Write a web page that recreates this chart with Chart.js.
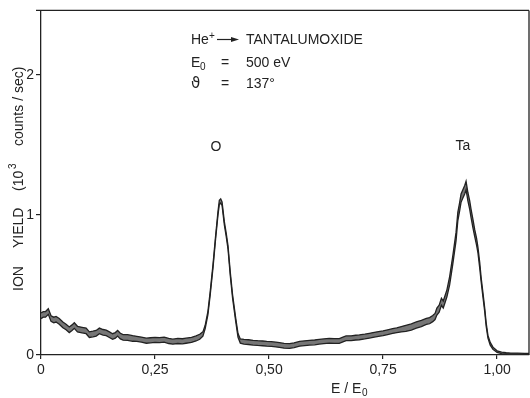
<!DOCTYPE html>
<html>
<head>
<meta charset="utf-8">
<script src="https://cdn.jsdelivr.net/npm/chart.js@4.4.1/dist/chart.umd.min.js"></script>
<style>
  html, body { margin: 0; padding: 0; background: #fff; }
  #wrap { width: 530px; height: 398px; position: relative; }
</style>
</head>
<body>
<div id="wrap"><canvas id="spectrum"></canvas></div>
<script>
// energy ratio E/E0
const energyRatio = [
  0.000, 0.005, 0.010, 0.016, 0.022, 0.028, 0.033, 0.040, 0.048, 0.055,
  0.062, 0.068, 0.073, 0.080, 0.090, 0.099, 0.106, 0.114, 0.121, 0.128,
  0.136, 0.143, 0.150, 0.157, 0.163, 0.168, 0.174, 0.180, 0.190, 0.201,
  0.210, 0.220, 0.231, 0.240, 0.250, 0.260, 0.270, 0.280, 0.289, 0.300,
  0.310, 0.318, 0.330, 0.340, 0.348, 0.355, 0.360, 0.366, 0.371, 0.377,
  0.383, 0.388, 0.391, 0.394, 0.397, 0.402, 0.406, 0.410, 0.415, 0.420,
  0.427, 0.432, 0.437, 0.445, 0.455, 0.465, 0.475, 0.486, 0.495, 0.505,
  0.515, 0.523, 0.533, 0.545, 0.555, 0.567, 0.578, 0.589, 0.600, 0.610,
  0.620, 0.632, 0.643, 0.654, 0.662, 0.669, 0.680, 0.690, 0.698, 0.710,
  0.720, 0.728, 0.740, 0.750, 0.760, 0.771, 0.780, 0.790, 0.800, 0.812,
  0.823, 0.834, 0.845, 0.852, 0.859, 0.864, 0.868, 0.873, 0.878, 0.882,
  0.886, 0.890, 0.896, 0.903, 0.910, 0.914, 0.918, 0.921, 0.925, 0.929,
  0.932, 0.936, 0.940, 0.943, 0.947, 0.951, 0.955, 0.958, 0.962, 0.965,
  0.969, 0.973, 0.976, 0.980, 0.985, 0.991, 1.000, 1.010, 1.020, 1.030,
  1.045, 1.060, 1.070
];

// ion yield, lower edge of the recorded trace (10^3 counts/sec)
const yieldLower = [
  0.260, 0.270, 0.270, 0.290, 0.240, 0.230, 0.235, 0.220, 0.195, 0.180,
  0.160, 0.175, 0.190, 0.165, 0.158, 0.152, 0.125, 0.130, 0.135, 0.152,
  0.142, 0.138, 0.125, 0.112, 0.120, 0.135, 0.115, 0.106, 0.105, 0.098,
  0.097, 0.092, 0.084, 0.087, 0.090, 0.088, 0.092, 0.082, 0.077, 0.082,
  0.080, 0.084, 0.090, 0.100, 0.112, 0.135, 0.188, 0.288, 0.428, 0.618,
  0.833, 0.998, 1.075, 1.085, 1.068, 0.928, 0.848, 0.758, 0.568, 0.408,
  0.238, 0.127, 0.085, 0.078, 0.075, 0.071, 0.068, 0.066, 0.063, 0.061,
  0.058, 0.054, 0.049, 0.047, 0.053, 0.063, 0.067, 0.071, 0.073, 0.078,
  0.081, 0.085, 0.083, 0.083, 0.093, 0.102, 0.103, 0.107, 0.109, 0.115,
  0.121, 0.126, 0.133, 0.138, 0.146, 0.154, 0.159, 0.165, 0.168, 0.178,
  0.192, 0.203, 0.218, 0.223, 0.238, 0.253, 0.285, 0.305, 0.355, 0.335,
  0.375, 0.415, 0.500, 0.650, 0.815, 0.960, 1.030, 1.090, 1.120, 1.150,
  1.180, 1.100, 1.040, 0.980, 0.910, 0.845, 0.785, 0.730, 0.620, 0.525,
  0.415, 0.308, 0.208, 0.120, 0.070, 0.040, 0.018, 0.010, 0.008, 0.006,
  0.006, 0.005, 0.005
];

// ion yield, upper edge of the recorded trace (10^3 counts/sec)
const yieldUpper = [
  0.300, 0.310, 0.310, 0.330, 0.280, 0.270, 0.275, 0.260, 0.235, 0.220,
  0.200, 0.215, 0.230, 0.205, 0.198, 0.192, 0.165, 0.170, 0.175, 0.192,
  0.182, 0.178, 0.165, 0.152, 0.160, 0.175, 0.155, 0.146, 0.145, 0.138,
  0.133, 0.128, 0.120, 0.123, 0.126, 0.124, 0.128, 0.118, 0.113, 0.118,
  0.116, 0.120, 0.126, 0.136, 0.148, 0.165, 0.212, 0.312, 0.452, 0.642,
  0.857, 1.022, 1.105, 1.115, 1.092, 0.952, 0.872, 0.782, 0.592, 0.432,
  0.262, 0.153, 0.115, 0.112, 0.109, 0.105, 0.102, 0.100, 0.097, 0.095,
  0.092, 0.088, 0.083, 0.081, 0.087, 0.097, 0.101, 0.105, 0.107, 0.112,
  0.115, 0.119, 0.117, 0.117, 0.127, 0.136, 0.137, 0.141, 0.143, 0.149,
  0.155, 0.160, 0.167, 0.172, 0.180, 0.188, 0.193, 0.203, 0.212, 0.222,
  0.236, 0.247, 0.262, 0.267, 0.282, 0.297, 0.335, 0.355, 0.405, 0.385,
  0.425, 0.465, 0.560, 0.710, 0.875, 1.020, 1.090, 1.150, 1.180, 1.210,
  1.240, 1.160, 1.100, 1.040, 0.970, 0.895, 0.835, 0.770, 0.660, 0.555,
  0.445, 0.332, 0.232, 0.140, 0.090, 0.056, 0.030, 0.020, 0.016, 0.014,
  0.014, 0.011, 0.011
];

const xTickValues = [0, 0.25, 0.5, 0.75, 1.0];
const xTickLabels = ["0", "0,25", "0,50", "0,75", "1,00"];
const yTickValues = [0, 1, 2];
const yTickLabels = ["0", "1", "2"];

const ink = "#222";
const font = "Liberation Sans, Arial, sans-serif";

const toPoints = (ys) => energyRatio.map((x, i) => ({ x: x, y: ys[i] }));

// frame, peak labels and the measurement notes
const annotations = {
  id: "annotations",
  afterDraw(chart) {
    const { ctx, chartArea: a } = chart;
    ctx.save();
    ctx.strokeStyle = ink;
    ctx.lineWidth = 1.3;
    ctx.beginPath();
    ctx.moveTo(36, a.top);
    ctx.lineTo(a.right, a.top);
    ctx.moveTo(a.right, a.top);
    ctx.lineTo(a.right, a.bottom);
    ctx.stroke();

    ctx.fillStyle = ink;
    ctx.textBaseline = "alphabetic";

    // peak labels
    ctx.font = "14px " + font;
    ctx.textAlign = "center";
    ctx.fillText("O", 216, 151);
    ctx.fillText("Ta", 463, 150);

    // reaction line
    ctx.textAlign = "left";
    ctx.font = "14px " + font;
    ctx.fillText("He", 191, 44);
    ctx.font = "10px " + font;
    ctx.fillText("+", 209, 39);
    ctx.beginPath();
    ctx.lineWidth = 1.2;
    ctx.moveTo(217, 39.5);
    ctx.lineTo(233, 39.5);
    ctx.stroke();
    ctx.beginPath();
    ctx.moveTo(231, 37);
    ctx.lineTo(239, 39.5);
    ctx.lineTo(231, 42);
    ctx.closePath();
    ctx.fill();
    ctx.font = "14px " + font;
    ctx.fillText("TANTALUMOXIDE", 246, 44);

    // primary energy
    ctx.fillText("E", 191, 67);
    ctx.font = "10px " + font;
    ctx.fillText("0", 200, 70);
    ctx.font = "14px " + font;
    ctx.textAlign = "center";
    ctx.fillText("=", 225, 67);
    ctx.textAlign = "left";
    ctx.fillText("500 eV", 246, 67);

    // scattering angle
    ctx.font = "15px DejaVu Sans, " + font;
    ctx.fillText("\u03D1", 191, 88);
    ctx.font = "14px " + font;
    ctx.textAlign = "center";
    ctx.fillText("=", 225, 88);
    ctx.textAlign = "left";
    ctx.fillText("137\u00B0", 246, 88);

    // x axis title
    ctx.font = "14px " + font;
    ctx.fillText("E / E", 331, 393);
    ctx.font = "10px " + font;
    ctx.fillText("0", 362, 396);

    // y axis title, rotated
    ctx.translate(23, 0);
    ctx.rotate(-Math.PI / 2);
    ctx.font = "14px " + font;
    ctx.fillText("ION", -291, 0);
    ctx.fillText("YIELD", -248, 0);
    ctx.fillText("(10", -191, 0);
    ctx.font = "10px " + font;
    ctx.fillText("3", -169, -7);
    ctx.font = "14px " + font;
    ctx.fillText("counts / sec)", -146, 0);
    ctx.restore();
  }
};

new Chart(document.getElementById("spectrum"), {
  type: "line",
  data: {
    datasets: [
      {
        label: "lower",
        data: toPoints(yieldLower),
        borderColor: ink,
        borderWidth: 1.3,
        pointRadius: 0,
        fill: false,
        tension: 0,
      },
      {
        label: "upper",
        data: toPoints(yieldUpper),
        borderColor: ink,
        borderWidth: 1.3,
        pointRadius: 0,
        fill: "-1",
        backgroundColor: "#767676",
        tension: 0,
      },
    ],
  },
  options: {
    responsive: true,
    maintainAspectRatio: false,
    animation: false,
    events: [],
    layout: { padding: { top: 10, right: 1, left: 0, bottom: 0 } },
    plugins: {
      legend: { display: false },
      tooltip: { enabled: false },
    },
    scales: {
      x: {
        type: "linear",
        min: 0,
        max: 1.07,
        afterFit: (s) => { s.height = 43; },
        afterBuildTicks: (s) => { s.ticks = xTickValues.map((v) => ({ value: v })); },
        border: { display: true, color: ink, width: 1.3 },
        grid: { drawOnChartArea: false, drawTicks: true, tickLength: 4, color: ink, lineWidth: 1.2 },
        ticks: {
          autoSkip: false,
          maxRotation: 0,
          padding: 3,
          color: ink,
          font: { family: font, size: 14 },
          callback: (v, i) => xTickLabels[i],
        },
      },
      y: {
        type: "linear",
        min: 0,
        max: 2.46,
        afterFit: (s) => { s.width = 41; },
        afterBuildTicks: (s) => { s.ticks = yTickValues.map((v) => ({ value: v })); },
        border: { display: true, color: ink, width: 1.3 },
        grid: { drawOnChartArea: false, drawTicks: true, tickLength: 5, color: ink, lineWidth: 1.2 },
        ticks: {
          autoSkip: false,
          padding: 2,
          color: ink,
          font: { family: font, size: 14 },
          callback: (v, i) => yTickLabels[i],
        },
      },
    },
  },
  plugins: [annotations],
});
</script>
</body>
</html>
